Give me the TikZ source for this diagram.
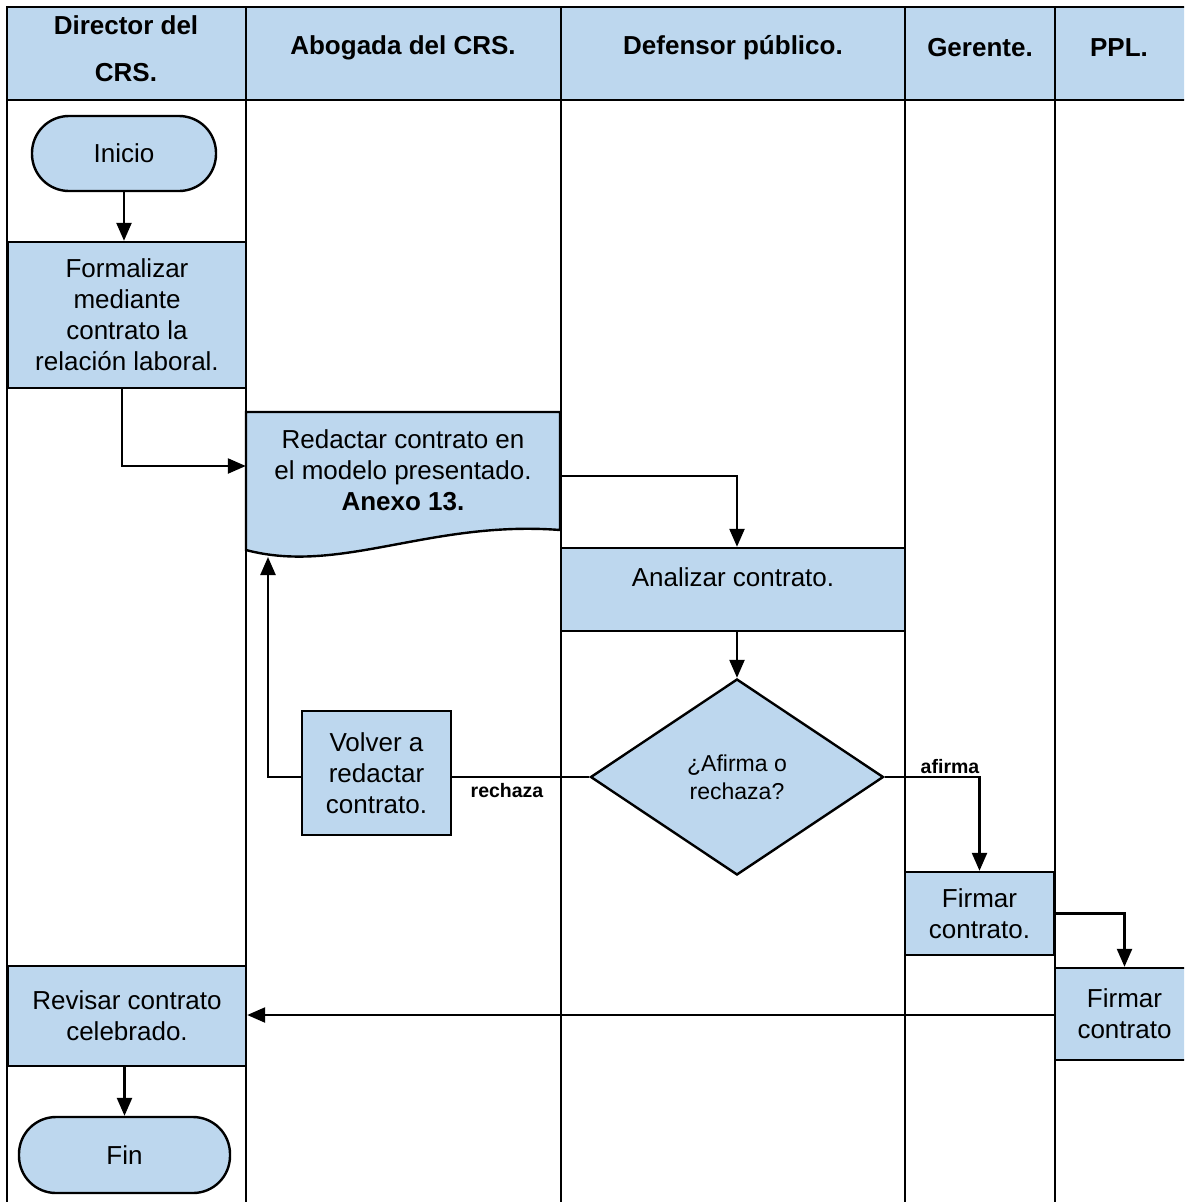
\documentclass[tikz,border=0pt]{standalone}
\usepackage{fontspec}
\setmainfont{Liberation Sans}
\usetikzlibrary{arrows.meta,shapes.geometric}
\definecolor{lane}{RGB}{189,215,238}
\tikzset{
  body/.style={font=\fontsize{26}{31}\selectfont, align=center},
  hdr/.style={font=\fontsize{26}{47}\selectfont\bfseries, align=center},
  proc/.style={draw, fill=lane, line width=2.4pt, rectangle, inner sep=0pt, body},
  term/.style={draw, fill=lane, line width=2.4pt, rectangle, rounded corners=37pt, inner sep=0pt, body},
  deci/.style={draw, fill=lane, line width=2.4pt, diamond, inner sep=0pt, align=center, font=\fontsize{23}{28}\selectfont},
  conn/.style={line width=2.4pt},
  arr/.style={line width=2.4pt, -{Triangle[length=18pt,width=15pt]}},
  lbl/.style={font=\fontsize{19.5}{22}\selectfont\bfseries, inner sep=0pt},
  grid/.style={line width=2.2pt}
}
\begin{document}
\begin{tikzpicture}[x=1pt,y=-1pt]
\useasboundingbox (0,0) rectangle (1184,1202);
\clip (0,0) rectangle (1184,1202);
% header and lanes
\fill[lane] (7,7) rectangle (1195,100);
\draw[grid] (1195,7) -- (7,7) -- (7,1210);
\draw[grid] (7,100) -- (1195,100);
\draw[grid] (246,7) -- (246,1210);
\draw[grid] (561,7) -- (561,1210);
\draw[grid] (905,7) -- (905,1210);
\draw[grid] (1055,7) -- (1055,1210);
\node[hdr] (h1) at (126,49) {Director del\\CRS.};
\node[hdr] (h2) at (403,48) {Abogada del CRS.};
\node[hdr] (h3) at (733,48) {Defensor público.};
\node[hdr] (h4) at (980,48) {Gerente.};
\node[hdr] (h5) at (1119,48) {PPL.};
% shapes
\node[term, minimum width=184pt, minimum height=75pt] (inicio) at (124,153.5) {Inicio};
\node[proc, minimum width=238pt, minimum height=146pt] (form) at (127,315) {Formalizar\\mediante\\contrato la\\relación laboral.};
% document shape
\filldraw[fill=lane, line width=2.4pt] (246,412) -- (560,412) -- (560,530)
  .. controls (430,520) and (340,575) .. (246,550) -- cycle;
\node[body, minimum width=314pt, minimum height=116pt, inner sep=0pt] (red) at (403,470) {Redactar contrato en\\el modelo presentado.\\\textbf{Anexo 13.}};
\coordinate (redb) at (268,557);
\node[proc, minimum width=344pt, minimum height=83pt] (ana) at (733,589.5) {};
\node[body, anchor=center] (anat) at (733,577) {Analizar contrato.};
\node[deci, minimum width=293pt, minimum height=196pt] (dia) at (737,777) {¿Afirma o\\rechaza?};
\node[proc, minimum width=149pt, minimum height=124pt] (vol) at (376.5,773) {Volver a\\redactar\\contrato.};
\node[proc, minimum width=149pt, minimum height=83pt] (f1) at (979.5,913.5) {Firmar\\contrato.};
\node[proc, minimum width=139pt, minimum height=92pt] (f2) at (1124.5,1014) {Firmar\\contrato};
\node[proc, minimum width=238pt, minimum height=100pt] (rev) at (127,1016) {Revisar contrato\\celebrado.};
\node[term, minimum width=211pt, minimum height=76pt] (fin) at (124.5,1155) {Fin};
% connectors
\draw[arr] (inicio.south -| inicio) -- (inicio.south |- form.north);
\draw[arr] ([xshift=-5pt]form.south) |- ([yshift=4pt]red.west);
\draw[arr] ([yshift=-6pt]red.east) -| ([xshift=4pt]ana.north);
\draw[arr] (dia.north |- ana.south) -- (dia.north);
\draw[conn] (dia.west) -- (vol.east |- dia.west);
\node[lbl] (lr) at (507,791) {rechaza};
\draw[arr] (vol.west |- dia.west) -| (redb);
\draw[arr] (dia.east) -| (f1.north);
\node[lbl] (la) at (950,767) {afirma};
\draw[arr] (f1.east) -| (f2.north);
\draw[arr] ([yshift=-1pt]f2.west) -- ([yshift=-1pt]f2.west -| rev.east);
\draw[arr] (fin.north |- rev.south) -- (fin.north);
\end{tikzpicture}
\end{document}
